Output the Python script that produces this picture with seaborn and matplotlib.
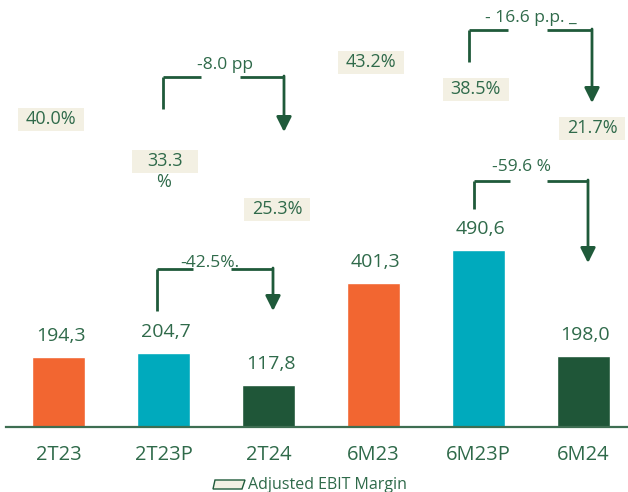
import matplotlib
matplotlib.use("Agg")
import matplotlib.pyplot as plt
from matplotlib.patches import Rectangle, Polygon, FancyArrowPatch
from matplotlib.lines import Line2D
import seaborn as sns
import pandas as pd

# --- data -------------------------------------------------------------
categories = ["2T23", "2T23P", "2T24", "6M23", "6M23P", "6M24"]
ebit_values = [194.3, 204.7, 117.8, 401.3, 490.6, 198.0]
ebit_margin = [40.0, 33.3, 25.3, 43.2, 38.5, 21.7]
bar_colors = ["#F26631", "#00AABD", "#1F5638", "#F26631", "#00AABD", "#1F5638"]
change_labels = ["-8.0 pp", "- 16.6 p.p. _", "-42.5%.", "-59.6 %"]
legend_label = "Adjusted EBIT Margin"

# --- layout (figure pixels, measured from the top-left corner) ---------
W, H = 628, 492
margin_box_pos = [(51, 119.5), (165, 161), (277, 209),
                  (370.5, 62), (475.5, 89), (592, 128)]
# bracket: left x, left-leg bottom, top y, gap start, gap end, right x, tip y, text x, text y
brackets = [
    (163, 109, 77, 201, 240, 284, 132, 225, 65),
    (469, 62, 30, 508, 547, 592, 103, 531, 18),
    (157, 311, 269, 193, 231, 273, 311, 210, 263),
    (474, 209, 181, 510, 547, 588, 263, 522, 167),
]

TEXT = "#2F6A4A"
LINE = "#1F5A3A"
BOX = "#F3F0E3"

sns.set_theme(style="white")
plt.rcParams["font.family"] = ["Open Sans", "DejaVu Sans"]

fig = plt.figure(figsize=(W / 100, H / 100), dpi=100)
fig.patch.set_facecolor("white")


def fp(x, y):
    """figure-pixel coordinates (origin bottom-left) from top-left pixels"""
    return (x, H - y)


baseline = 427
ax = fig.add_axes([6 / W, 1 - baseline / H, 622 / W, baseline / H])
df = pd.DataFrame({"cat": categories, "val": ebit_values})
sns.barplot(data=df, x="cat", y="val", hue="cat", palette=bar_colors,
            width=0.505, legend=False, saturation=1, ax=ax)
ax.set_xlim(-0.5, -0.5 + 622 / 105)
ax.set_ylim(0, baseline / 0.36)
ax.set_xlabel("")
ax.set_ylabel("")
ax.set_yticks([])
for s in ["top", "right", "left"]:
    ax.spines[s].set_visible(False)
ax.spines["bottom"].set_color("#3E6E52")
ax.spines["bottom"].set_linewidth(1.6)
ax.tick_params(axis="x", length=0, pad=13, labelsize=14.5, labelcolor=TEXT)
ax.set_facecolor("none")

# value labels above the bars
for i, v in enumerate(ebit_values):
    ax.annotate(f"{v:.1f}".replace(".", ","), xy=(i, v), xytext=(2, 21),
                textcoords="offset pixels", ha="center", va="center",
                fontsize=14, color=TEXT)

# margin labels in beige boxes
for (x, y), m in zip(margin_box_pos, ebit_margin):
    fig.patches.append(Rectangle(fp(x - 33, y + 11.5), 66, 23,
                                 transform=None, facecolor=BOX,
                                 edgecolor="none", zorder=1))
    if m == 33.3:
        fig.text(*fp(x, y), f"{m:.1f}", transform=None, ha="center",
                 va="center", fontsize=13, color=TEXT, zorder=2)
        fig.text(*fp(x - 1, y + 21), "%", transform=None, ha="center",
                 va="center", fontsize=13, color=TEXT, zorder=2)
    else:
        fig.text(*fp(x, y), f"{m:.1f}%", transform=None, ha="center",
                 va="center", fontsize=13, color=TEXT, zorder=2)

# change brackets with arrows
for (lx, lb, ty, g0, g1, rx, tip, tx, tyt), lab in zip(brackets, change_labels):
    for xs, ys in [([lx, lx], [lb, ty]), ([lx, g0], [ty, ty]), ([g1, rx], [ty, ty])]:
        fig.lines.append(Line2D(xs, [H - y for y in ys], transform=None,
                                color=LINE, lw=2, solid_capstyle="butt"))
    fig.patches.append(FancyArrowPatch(fp(rx, ty - 1), fp(rx, tip),
                                       transform=None,
                                       arrowstyle="-|>,head_length=0.6,head_width=0.3",
                                       mutation_scale=15, color=LINE, lw=2,
                                       shrinkA=0, shrinkB=0))
    fig.text(*fp(tx, tyt), lab, transform=None, ha="center", va="center",
             fontsize=12.5, color=TEXT)

# legend entry
fig.patches.append(Polygon([fp(215, 480), fp(245, 480), fp(242, 489), fp(213, 489)],
                           closed=True, transform=None, facecolor=BOX,
                           edgecolor=LINE, lw=1))
fig.text(*fp(248, 485), legend_label, transform=None, ha="left", va="center",
         fontsize=11.5, color=TEXT)

fig.savefig("out.png", dpi=100)
